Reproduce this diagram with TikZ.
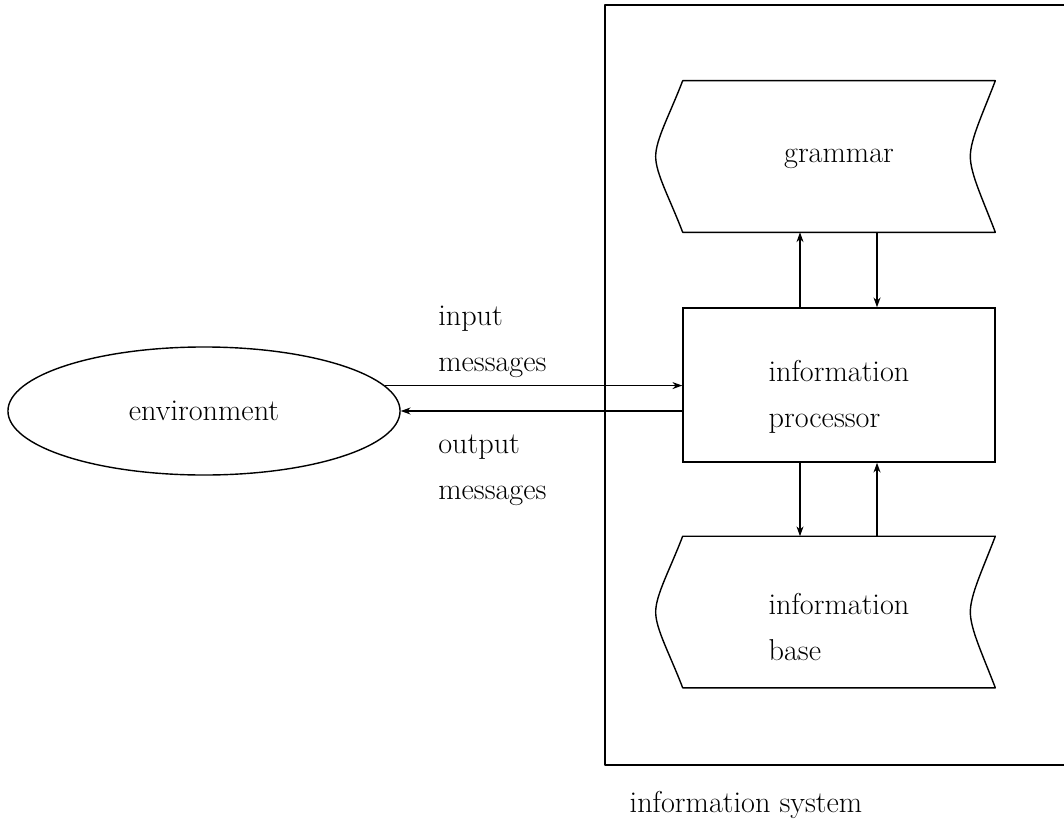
\documentclass[tikz,border=0pt]{standalone}
\usetikzlibrary{shapes.geometric,arrows.meta}

\begin{document}
\begin{tikzpicture}[
    x=0.025cm, y=-0.025cm,
    every node/.style={font=\fontsize{21.5pt}{32.7pt}\selectfont},
    ellipsebox/.style={ellipse, draw, line width=1pt, inner sep=0pt, minimum width=9.8cm, minimum height=3.2cm},
    procbox/.style={rectangle, draw, line width=1pt, minimum width=7.8cm, minimum height=3.85cm},
    storebox/.style={rectangle, minimum width=7.8cm, minimum height=3.775cm},
    txt/.style={align=left, inner sep=0pt},
    outline/.style={line width=1pt, line join=round},
    arrow/.style={-{Stealth[length=7pt,width=5pt]}, line width=0.9pt},
    lbl/.style={align=left, inner sep=0pt, anchor=west}
]
\useasboundingbox (0,0) rectangle (1064,834);

% Nodes
\node[ellipsebox] (env)  at (204,411)   {environment};
\node[procbox]    (proc) at (839,385)   {};
\node[storebox]   (gram) at (839,156.5) {};
\node[storebox]   (base) at (839,612)   {};

\node[txt] (proctxt) at ([yshift=-3mm]proc.center)   {information\\processor};
\node[txt] (gramtxt) at ([yshift=-0.5mm]gram.center) {grammar};
\node[txt] (basetxt) at ([yshift=-3.75mm]base.center) {information\\base};

\node[lbl] (inlbl)  at (438,342) {input\\messages};
\node[lbl] (outlbl) at (438,470) {output\\messages};
\node      (syslbl) at (746,805) {information system};

% System boundary (open on the right)
\draw[outline] (1064,5) -| (605,765) -- (1064,765);

% Stored data outlines
\foreach \s in {gram, base} {
  \draw[outline] ([xshift=-6.75mm]\s.west)
      .. controls +(0,-17) and +(-13,34) .. (\s.north west)
      -- (\s.north east)
      .. controls +(-13,34) and +(0,-17) .. ([xshift=-6.25mm]\s.east)
      .. controls +(0,17) and +(-13,-34) .. (\s.south east)
      -- (\s.south west)
      .. controls +(-13,-34) and +(0,17) .. ([xshift=-6.75mm]\s.west);
}

% Processor and stores
\draw[arrow] ([xshift=-9.75mm]proc.north) -- ([xshift=-9.75mm]gram.south);
\draw[arrow] ([xshift=9.5mm]gram.south)   -- ([xshift=9.5mm]proc.north);
\draw[arrow] ([xshift=-9.75mm]proc.south) -- ([xshift=-9.75mm]base.north);
\draw[arrow] ([xshift=9.5mm]base.north)   -- ([xshift=9.5mm]proc.south);

% Messages
\draw[arrow] (env.8.26) -- (env.8.26 -| proc.west);
\draw[arrow] (proc.west |- env.east) -- (env.east);

\end{tikzpicture}
\end{document}
